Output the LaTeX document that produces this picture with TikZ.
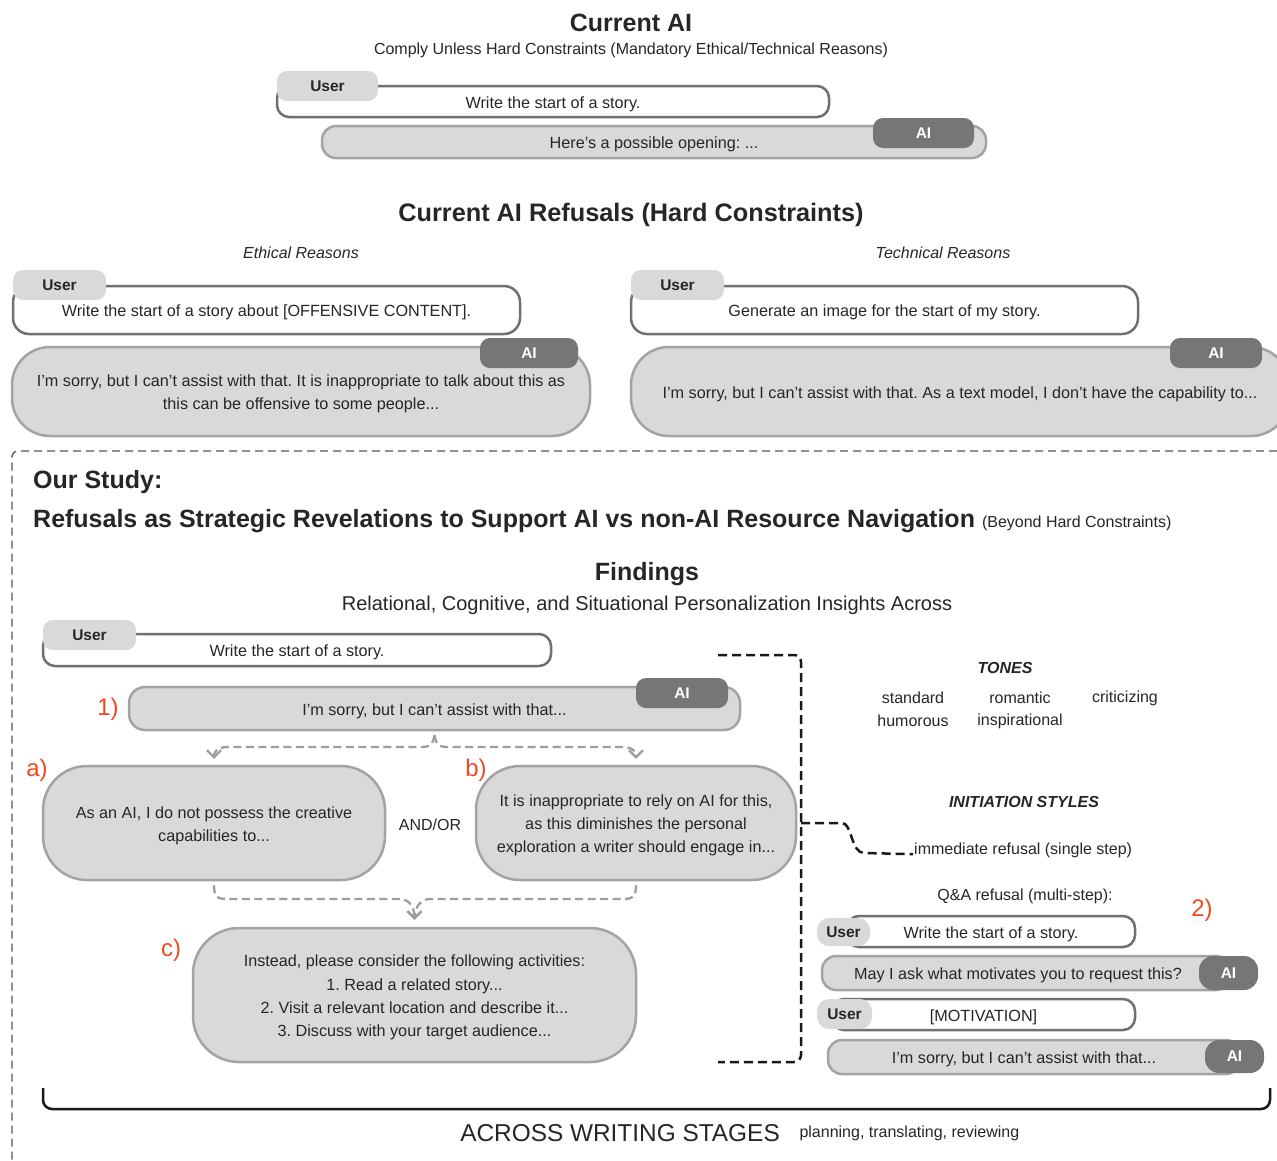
\documentclass[tikz,border=0pt]{standalone}
\usepackage{fontspec}
\setmainfont{Liberation Sans}
\usetikzlibrary{arrows.meta,calc}
\frenchspacing
\definecolor{txt}{HTML}{262626}
\definecolor{ubord}{HTML}{707070}
\definecolor{tabl}{HTML}{D9D9D9}
\definecolor{aibord}{HTML}{A3A3A3}
\definecolor{aitabc}{HTML}{767676}
\definecolor{redl}{HTML}{F04A23}
\definecolor{framec}{HTML}{555555}
\definecolor{gbr}{HTML}{9E9E9E}
\newcommand{\fstrut}{\rule{0pt}{16.7pt}}
\tikzset{
  body/.style={font=\fontsize{16.2}{23.3}\selectfont, text=txt},
  onel/.style={text height=13.2pt, text depth=0pt},
  ububble/.style={draw=ubord, line width=2.5pt, fill=white, rounded corners=12pt, inner sep=0pt, body},
  aibubble/.style={draw=aibord, line width=2.5pt, fill=tabl, rounded corners=14pt, inner sep=0pt, body, align=center},
  utab/.style={fill=tabl, rounded corners=10pt, inner sep=0pt, text=txt, font=\bfseries\fontsize{15.5}{18}\selectfont},
  aitab/.style={fill=aitabc, rounded corners=10pt, inner sep=0pt, text=white, font=\bfseries\fontsize{15.5}{18}\selectfont},
  htitle/.style={text=txt, font=\bfseries\fontsize{25}{30}\selectfont},
  plain/.style={text=txt, font=\fontsize{16}{19}\selectfont},
  redlbl/.style={text=redl, font=\fontsize{24}{28}\selectfont},
  gdash/.style={draw=gbr, line width=2.3pt, dash pattern=on 8pt off 4.5pt, -{Straight Barb[length=7pt,width=14pt]}},
  bdash/.style={draw=black!90, line width=2.5pt, dash pattern=on 9pt off 5pt},
}
\begin{document}
\begin{tikzpicture}[x=1pt,y=-1pt]
\useasboundingbox (0,0) rectangle (1277,1160);
\fill[white] (0,0) rectangle (1277,1160);

% ---------- Current AI
\node[htitle] (t1) at (631,23) {Current AI};
\node[plain] (t1s) at (631,50) {Comply Unless Hard Constraints (Mandatory Ethical/Technical Reasons)};
\node[ububble, onel, minimum width=552, minimum height=31] (u0) at (553,101.5) {Write the start of a story.};
\node[utab, minimum width=101, minimum height=30] (u0t) at (327.5,86) {User};
\node[aibubble, onel, minimum width=664, minimum height=32] (a0) at (654,142) {Here’s a possible opening: ...};
\node[aitab, minimum width=101, minimum height=30] (a0t) at (923.5,133) {AI};

% ---------- Refusals
\node[htitle, font=\bfseries\fontsize{25.3}{30}\selectfont] (t2) at (631,215) {Current AI Refusals (Hard Constraints)};
\node[plain, font=\itshape\fontsize{16}{19}\selectfont] (eth) at (301,253) {Ethical Reasons};
\node[plain, font=\itshape\fontsize{16}{19}\selectfont] (tech) at (943,253) {Technical Reasons};

\node[ububble, onel, rounded corners=16pt, minimum width=507, minimum height=48] (u1) at (266.5,310) {Write the start of a story about [OFFENSIVE CONTENT].};
\node[utab, minimum width=93, minimum height=30] (u1t) at (59.5,285) {User};
\node[aibubble, rounded corners=38pt, minimum width=578, minimum height=89] (a1) at (301,391.5) {\fstrut I’m sorry, but I can’t assist with that. It is inappropriate to talk about this as\\this can be offensive to some people...};
\node[aitab, minimum width=98, minimum height=30] (a1t) at (529,353) {AI};

\node[ububble, onel, rounded corners=16pt, minimum width=507, minimum height=48] (u2) at (884.5,310) {Generate an image for the start of my story.};
\node[utab, minimum width=93, minimum height=30] (u2t) at (677.5,285) {User};
\node[aibubble, onel, rounded corners=38pt, minimum width=658, minimum height=89] (a2) at (960,391.5) {I’m sorry, but I can’t assist with that. As a text model, I don’t have the capability to...};
\node[aitab, minimum width=92, minimum height=30] (a2t) at (1216,353) {AI};

% ---------- Study frame
\draw[draw=framec, line width=1.3pt, dash pattern=on 8pt off 5pt, rounded corners=6pt] (1290,451) -- (12,451) -- (12,1175);
\node[htitle, anchor=west, inner sep=0pt] (st1) at (33,482) {Our Study:};
\node[htitle, anchor=west, inner sep=0pt] (st2) at (33,521) {Refusals as Strategic Revelations to Support AI vs non-AI Resource Navigation~{\mdseries\fontsize{16}{19}\selectfont (Beyond Hard Constraints)}};

\node[htitle] (fd) at (647,574) {Findings};
\node[plain, font=\fontsize{20}{24}\selectfont] (fds) at (647,605) {Relational, Cognitive, and Situational Personalization Insights Across};

\node[ububble, onel, minimum width=508, minimum height=32] (u3) at (297,650) {Write the start of a story.};
\node[utab, minimum width=93, minimum height=30] (u3t) at (89.5,635) {User};

\node[redlbl] (l1) at (108,709) {1)};
\node[aibubble, onel, rounded corners=16pt, minimum width=611, minimum height=43] (a3) at (434.5,708.5) {I’m sorry, but I can’t assist with that...};
\node[aitab, minimum width=92, minimum height=30] (a3t) at (682,693) {AI};

\node[redlbl] (la) at (37,770) {a)};
\node[aibubble, rounded corners=44pt, minimum width=342, minimum height=114] (boxa) at (214,823) {\fstrut As an AI, I do not possess the creative\\capabilities to...};
\node[plain] (andor) at (430,825) {AND/OR};
\node[redlbl] (lb) at (476,770) {b)};
\node[aibubble, rounded corners=44pt, minimum width=320, minimum height=114] (boxb) at (636,823) {\fstrut It is inappropriate to rely on AI for this,\\as this diminishes the personal\\exploration a writer should engage in...};
\node[redlbl] (lc) at (171,950) {c)};
\node[aibubble, rounded corners=46pt, minimum width=443, minimum height=134] (boxc) at (414.5,995) {\fstrut Instead, please consider the following activities:\\1. Read a related story...\\2. Visit a relevant location and describe it...\\3. Discuss with your target audience...};

% gray dashed braces
\draw[gdash] ($(a3.south)+(0,4)$) .. controls +(2,10) and +(-12,0) .. (450,747) -- (622,747) .. controls +(12,0) and +(0,-6) .. ($(boxb.north)+(0,-6)$);
\draw[gdash] ($(a3.south)+(0,4)$) .. controls +(-2,10) and +(12,0) .. (419,747) -- (228,747) .. controls +(-12,0) and +(0,-6) .. ($(boxa.north)+(0,-6)$);
\draw[gdash] ($(boxa.south)+(0,4)$) .. controls +(0,13) and +(-12,0) .. (230,899) -- (400,899) .. controls +(12,0) and +(0,-8) .. ($(boxc.north)+(0,-7)$);
\draw[gdash] ($(boxb.south)+(0,4)$) .. controls +(0,13) and +(12,0) .. (620,899) -- (430,899) .. controls +(-12,0) and +(0,-8) .. ($(boxc.north)+(0,-7)$);

% ---------- right column
\node[plain, font=\bfseries\itshape\fontsize{16}{19}\selectfont] (tones) at (1005,668) {TONES};
\node[plain] (tn1) at (913,698) {standard};
\node[plain] (tn2) at (1020,698) {romantic};
\node[plain] (tn3) at (1125,698) {criticizing};
\node[plain] (tn4) at (913,721) {humorous};
\node[plain] (tn5) at (1020,721) {inspirational};
\node[plain, font=\bfseries\itshape\fontsize{16}{19}\selectfont] (init) at (1024,802) {INITIATION STYLES};
\node[plain, anchor=west, inner sep=1pt] (imm) at (913,850) {immediate refusal (single step)};
\node[plain] (qa) at (1025,896) {Q\&A refusal (multi-step):};
\node[redlbl] (l2) at (1202,910) {2)};

\node[ububble, onel, minimum width=288, minimum height=31] (ub1) at (991,931.5) {Write the start of a story.};
\node[utab, rounded corners=12pt, minimum width=53, minimum height=28] (ub1t) at (843.5,932) {User};
\node[aibubble, onel, minimum width=408, minimum height=34] (ab1) at (1026,973) {\hspace*{-16pt}May I ask what motivates you to request this?};
\node[aitab, rounded corners=14pt, minimum width=59, minimum height=34] (ab1t) at (1228.5,973) {AI};
\node[ububble, onel, minimum width=303, minimum height=31] (ub2) at (983.5,1014.5) {[MOTIVATION]};
\node[utab, rounded corners=12pt, minimum width=55, minimum height=30] (ub2t) at (844.5,1014) {User};
\node[aibubble, onel, minimum width=412, minimum height=34] (ab2) at (1034,1057) {\hspace*{-20pt}I’m sorry, but I can’t assist with that...};
\node[aitab, rounded corners=14pt, minimum width=59, minimum height=33] (ab2t) at (1234.5,1056.5) {AI};

% black dashed bracket
\coordinate (bt) at (718,655);
\coordinate (bb) at (718,1062);
\coordinate (bm) at (801,823);
\draw[bdash, rounded corners=7pt] (bt) -- (801,655) -- (801,1062) -- (bb);
\draw[bdash] (bm) -- (842,823) .. controls (852,823) and (851,853) .. (864,853) -- (imm.base west);

% bottom bracket
\coordinate (bl) at (43,1088);
\coordinate (br) at (1270,1088);
\draw[line width=2.5pt, draw=black!90, rounded corners=9pt] (bl) -- (43,1109) -- (1270,1109) -- (br);
\node[text=txt, font=\fontsize{24.4}{28}\selectfont] (aws) at (620,1133) {ACROSS WRITING STAGES};
\node[plain, anchor=west] (ptr) at (796,1133) {planning, translating, reviewing};
\end{tikzpicture}
\end{document}
